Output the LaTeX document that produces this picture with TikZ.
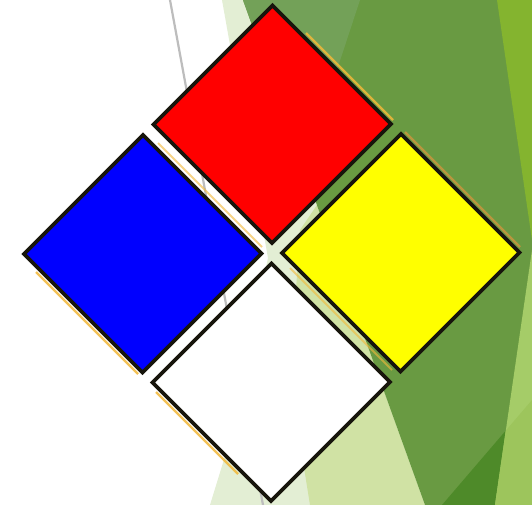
\documentclass[tikz,border=0pt]{standalone}
\definecolor{vlgreen}{HTML}{E3EED4}
\definecolor{lgreen}{HTML}{D0E2A4}
\definecolor{mgreen}{HTML}{699A42}
\definecolor{mgreentwo}{HTML}{73A158}
\definecolor{limegreen}{HTML}{84B42F}
\definecolor{dgreen}{HTML}{4E8A29}
\definecolor{stripgreen}{HTML}{A5CC68}
\definecolor{overgreen}{HTML}{9DC55C}
\definecolor{goldpix}{HTML}{F2B83A}
\definecolor{tanpix}{HTML}{C8963E}
\definecolor{outl}{HTML}{17150C}
\definecolor{hazred}{HTML}{FF0000}
\definecolor{hazblue}{HTML}{0000FF}
\definecolor{hazyellow}{HTML}{FFFF00}
\definecolor{linegray}{HTML}{BDBDBD}
\begin{document}
\begin{tikzpicture}[x=1pt,y=-1pt,
  diamondbox/.style={draw=outl, line width=3.6pt, line join=miter},
  goldline/.style={draw=goldpix, line width=2.4pt, opacity=0.85},
  gapline/.style={draw=goldpix, line width=1.8pt, opacity=0.6}]
\useasboundingbox (0,0) rectangle (532,505);
\clip (0,0) rectangle (532,505);
% background
\fill[white] (0,0) rectangle (532,505);
\fill[vlgreen] (222,0) -- (243,0) -- (425,505) -- (210,505) -- (226,453) -- (268,258) -- cycle;
\fill[lgreen] (310,505) -- (425,505) -- (317,205) -- (300,230) -- (290,380) -- cycle;
\fill[mgreen] (243,0) -- (532,0) -- (532,505) -- (425,505) -- cycle;
\fill[mgreentwo] (243,0) -- (360,0) -- (304,170) -- cycle;
\fill[limegreen] (497,0) -- (532,0) -- (532,240) -- cycle;
\fill[dgreen] (442,505) -- (532,400) -- (532,505) -- cycle;
\fill[stripgreen] (532,250) -- (532,505) -- (495,505) -- cycle;
\fill[overgreen] (495,505) -- (505.8,430.6) -- (532,400) -- (532,505) -- cycle;
\coordinate (L1) at (170,0);
\coordinate (L2) at (263,505);
\draw[linegray, line width=2.2pt] (L1) -- (L2);
% diamond vertices
\coordinate (R1) at (272.5,5.5);  \coordinate (R2) at (391,124);
\coordinate (R3) at (272,243);    \coordinate (R4) at (153.5,124.5);
\coordinate (B1) at (143,135);    \coordinate (B2) at (261.5,253.5);
\coordinate (B3) at (142.5,372.5);\coordinate (B4) at (24,254);
\coordinate (Y1) at (401,134);    \coordinate (Y2) at (519.5,252.5);
\coordinate (Y3) at (400.5,371.5);\coordinate (Y4) at (282,253);
\coordinate (W1) at (271.5,263.5);\coordinate (W2) at (390,382);
\coordinate (W3) at (271,501);    \coordinate (W4) at (152.5,382.5);
% gold fringe pixels
\draw[goldline] (306,33) -- (393,120);
\draw[goldline] (36,272) -- (138,374);
\draw[goldline] (156,392) -- (238,474);
\draw[goldline, draw=tanpix] (405,132) -- (520,247);
\draw[gapline] (158,143) -- (262,247);
\draw[gapline] (290,268) -- (392,370);
% diamonds
\filldraw[diamondbox, fill=hazred] (R1) -- (R2) -- (R3) -- (R4) -- cycle;
\filldraw[diamondbox, fill=hazblue] (B1) -- (B2) -- (B3) -- (B4) -- cycle;
\filldraw[diamondbox, fill=hazyellow] (Y1) -- (Y2) -- (Y3) -- (Y4) -- cycle;
\filldraw[diamondbox, fill=white] (W1) -- (W2) -- (W3) -- (W4) -- cycle;
\end{tikzpicture}
\end{document}
